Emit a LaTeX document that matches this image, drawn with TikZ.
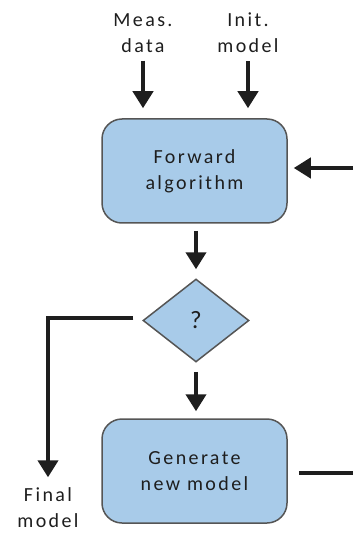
\documentclass[tikz,border=0pt]{standalone}
\usepackage{fontspec}
\setmainfont[LetterSpace=12]{Carlito}
\usetikzlibrary{arrows.meta,shapes.geometric}
\definecolor{boxfill}{HTML}{A8CBE9}
\definecolor{boxline}{HTML}{555555}
\definecolor{ink}{HTML}{1E1E1E}
\tikzset{
  lbl/.style={align=center, text=ink, font=\fontsize{20}{26}\selectfont, inner sep=0pt},
  stepbox/.style={draw=boxline, line width=1.5pt, fill=boxfill, rounded corners=20pt,
    minimum width=185pt, minimum height=104pt, lbl},
  decide/.style={diamond, draw=boxline, line width=1.5pt, fill=boxfill, inner sep=0pt,
    minimum width=106pt, minimum height=83pt, aspect=1.28, lbl,
    font=\fontsize{25}{26}\selectfont},
  arr/.style={draw=ink, line width=4pt, -{Triangle[width=20pt,length=17pt]}},
  plain/.style={draw=ink, line width=4pt},
}
\begin{document}
\begin{tikzpicture}[x=1pt,y=-1pt]
  \useasboundingbox[fill=white] (0,0) rectangle (353,534);

  % inputs
  \node[lbl] (meas) at (143,33) {Meas.\\data};
  \node[lbl] (init) at (248,33) {Init.\\model};

  % process blocks
  \node[stepbox] (fwd) at (194.5,171) {Forward\\algorithm};
  \node[decide] (dec) at (196,320.5) {?};
  \node[stepbox] (gen) at (194.5,471) {Generate\\new model};

  % output
  \node[lbl] (final) at (48,507.5) {Final\\model};

  % feedback loop ends at the right border
  \coordinate (loopin) at (353,168);
  \coordinate (loopout) at (353,473);
  \coordinate (corner) at (48,318);

  \draw[arr, shorten <=8pt, shorten >=10pt] (meas.south) -- (meas.south |- fwd.north);
  \draw[arr, shorten <=8pt, shorten >=10pt] (init.south) -- (init.south |- fwd.north);
  \draw[arr, shorten <=7pt, shorten >=9pt] (fwd.south -| dec.north) -- (dec.north);
  \draw[arr, shorten <=9pt, shorten >=7pt] (dec.south) -- (dec.south |- gen.north);
  \draw[arr, shorten <=9pt, shorten >=10pt] (dec.west |- corner) -- (corner) -- (final.north);
  \draw[arr, shorten >=6pt] (loopin) -- (loopin -| fwd.east);
  \draw[plain, shorten <=11pt] (gen.east |- loopout) -- (loopout);
\end{tikzpicture}
\end{document}
